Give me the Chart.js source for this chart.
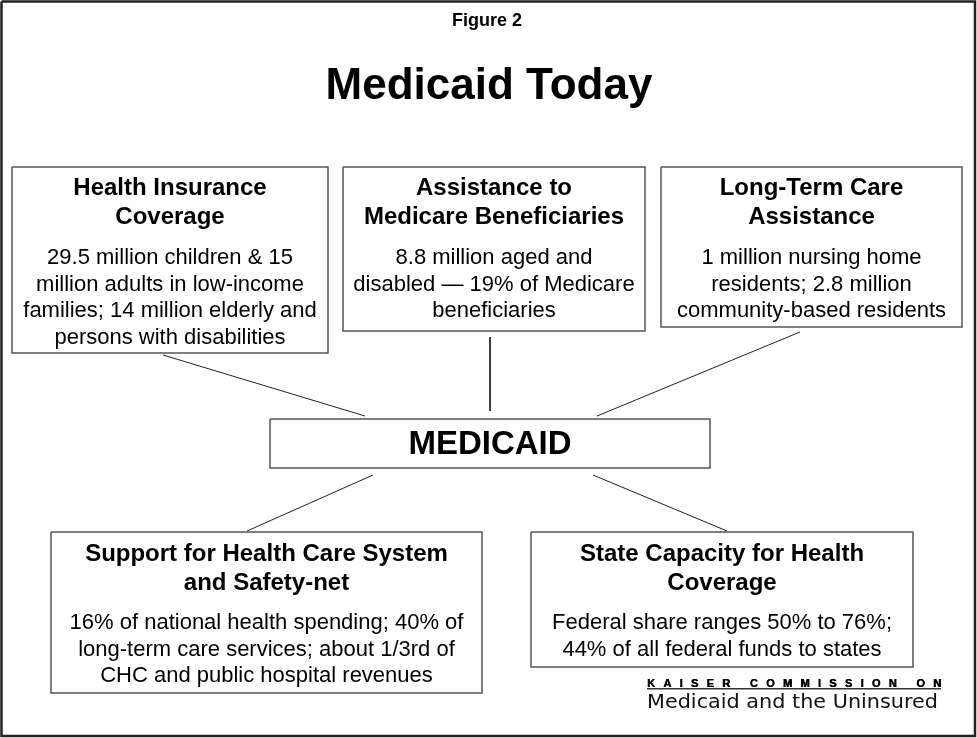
<!DOCTYPE html>
<html>
<head>
<meta charset="utf-8">
<script src="https://cdn.jsdelivr.net/npm/chart.js@4"></script>
<style>
  html, body { margin: 0; padding: 0; background: #fff; }
  #wrap { width: 977px; height: 738px; }
</style>
</head>
<body>
<div id="wrap"><canvas id="diagram" width="977" height="738"></canvas></div>
<script>
// Textes du schéma
const figureLabel = 'Figure 2';
const mainTitle = 'Medicaid Today';
const centerLabel = 'MEDICAID';
const boxTitles = [
  ['Health Insurance', 'Coverage'],
  ['Assistance to', 'Medicare Beneficiaries'],
  ['Long-Term Care', 'Assistance'],
  ['Support for Health Care System', 'and Safety-net'],
  ['State Capacity for Health', 'Coverage']
];
const boxBodies = [
  ['29.5 million children & 15', 'million adults in low-income', 'families; 14 million elderly and', 'persons with disabilities'],
  ['8.8 million aged and', 'disabled \u2014 19% of Medicare', 'beneficiaries'],
  ['1 million nursing home', 'residents; 2.8 million', 'community-based residents'],
  ['16% of national health spending; 40% of', 'long-term care services; about 1/3rd of', 'CHC and public hospital revenues'],
  ['Federal share ranges 50% to 76%;', '44% of all federal funds to states']
];
const sourceTop = 'KAISER COMMISSION ON';
const sourceBottom = 'Medicaid and the Uninsured';

// Mise en page (unités = pixels du canevas, passées par les échelles)
const layout = {
  boxes: [
    { x0: 12, y0: 167, x1: 328, y1: 353, titleY: 188, bodyY: 258 },
    { x0: 343, y0: 167, x1: 645, y1: 331, titleY: 188, bodyY: 258 },
    { x0: 661, y0: 167, x1: 962, y1: 327, titleY: 188, bodyY: 258 },
    { x0: 51, y0: 532, x1: 482, y1: 693, titleY: 554, bodyY: 623 },
    { x0: 531, y0: 532, x1: 913, y1: 667, titleY: 554, bodyY: 623 }
  ],
  center: { x0: 270, y0: 419, x1: 710, y1: 468 },
  links: [
    [[163, 355], [365, 416]],
    [[490, 337], [490, 411]],
    [[800, 332], [597, 416]],
    [[373, 475], [247, 531]],
    [[593, 475], [727, 531]]
  ],
  frame: { x0: 1.5, y0: 1.5, x1: 975, y1: 736 }
};

function rectPoints(r) {
  return [
    { x: r.x0, y: r.y0 }, { x: r.x1, y: r.y0 },
    { x: r.x1, y: r.y1 }, { x: r.x0, y: r.y1 }, { x: r.x0, y: r.y0 }
  ];
}

const datasets = [];
datasets.push({ data: rectPoints(layout.frame), borderColor: '#222', borderWidth: 2.5 });
layout.boxes.forEach(b => datasets.push({ data: rectPoints(b), borderColor: '#555', borderWidth: 1.5 }));
datasets.push({ data: rectPoints(layout.center), borderColor: '#555', borderWidth: 1.5 });
layout.links.forEach(l => datasets.push({
  data: l.map(p => ({ x: p[0], y: p[1] })), borderColor: '#222', borderWidth: 1
}));
datasets.forEach(d => {
  d.type = 'line';
  d.pointRadius = 0;
  d.fill = false;
  d.tension = 0;
  d.borderJoinStyle = 'miter';
});

// Plugin pour écrire les textes
const textPlugin = {
  id: 'texts',
  afterDraw(chart) {
    const ctx = chart.ctx;
    const xs = chart.scales.x, ys = chart.scales.y;
    const X = v => xs.getPixelForValue(v);
    const Y = v => ys.getPixelForValue(v);
    ctx.save();
    ctx.fillStyle = '#000';
    ctx.textAlign = 'center';

    ctx.textBaseline = 'alphabetic';
    ctx.font = 'bold 18px "Liberation Sans", Arial, sans-serif';
    ctx.fillText(figureLabel, X(487), Y(26));

    ctx.textBaseline = 'middle';
    ctx.font = 'bold 44px "Liberation Sans", Arial, sans-serif';
    ctx.fillText(mainTitle, X(489), Y(87));

    layout.boxes.forEach((b, i) => {
      const cx = (b.x0 + b.x1) / 2;
      ctx.font = 'bold 24px "Liberation Sans", Arial, sans-serif';
      boxTitles[i].forEach((t, k) => ctx.fillText(t, X(cx), Y(b.titleY + k * 29.5)));
      ctx.font = '22px "Liberation Sans", Arial, sans-serif';
      boxBodies[i].forEach((t, k) => ctx.fillText(t, X(cx), Y(b.bodyY + k * 26.6)));
    });

    const c = layout.center;
    ctx.font = 'bold 33px "Liberation Sans", Arial, sans-serif';
    ctx.fillText(centerLabel, X((c.x0 + c.x1) / 2), Y(445));

    // Logo Kaiser
    const lx0 = 647, lx1 = 941;
    ctx.textBaseline = 'alphabetic';
    ctx.font = 'bold 11px "Liberation Sans", Arial, sans-serif';
    ctx.textAlign = 'left';
    const chars = sourceTop.split('');
    const widths = chars.map(ch => ctx.measureText(ch).width);
    const total = widths.reduce((a, b) => a + b, 0);
    const gap = (X(lx1) - X(lx0) - total) / (chars.length - 1);
    let px = X(lx0);
    chars.forEach((ch, k) => {
      // léger faux-gras pour imiter le logo
      ctx.fillText(ch, px, Y(687));
      ctx.fillText(ch, px + 0.6, Y(687));
      px += widths[k] + gap;
    });
    ctx.fillStyle = '#333';
    ctx.fillRect(X(lx0), Y(688), X(lx1) - X(lx0), 1.5);

    ctx.fillStyle = '#111';
    ctx.font = '20px "DejaVu Sans", Verdana, sans-serif';
    const w = ctx.measureText(sourceBottom).width;
    ctx.save();
    ctx.translate(X(lx0), Y(707.5));
    ctx.scale((X(938) - X(lx0)) / w, 1);
    ctx.fillText(sourceBottom, 0, 0);
    ctx.restore();
    ctx.restore();
  }
};

new Chart(document.getElementById('diagram').getContext('2d'), {
  type: 'line',
  data: { datasets: datasets },
  options: {
    responsive: false,
    animation: false,
    devicePixelRatio: 1,
    layout: { padding: 0 },
    plugins: { legend: { display: false }, tooltip: { enabled: false } },
    scales: {
      x: { type: 'linear', min: 0, max: 977, display: false },
      y: { type: 'linear', min: 0, max: 738, reverse: true, display: false }
    }
  },
  plugins: [textPlugin]
});
</script>
</body>
</html>
